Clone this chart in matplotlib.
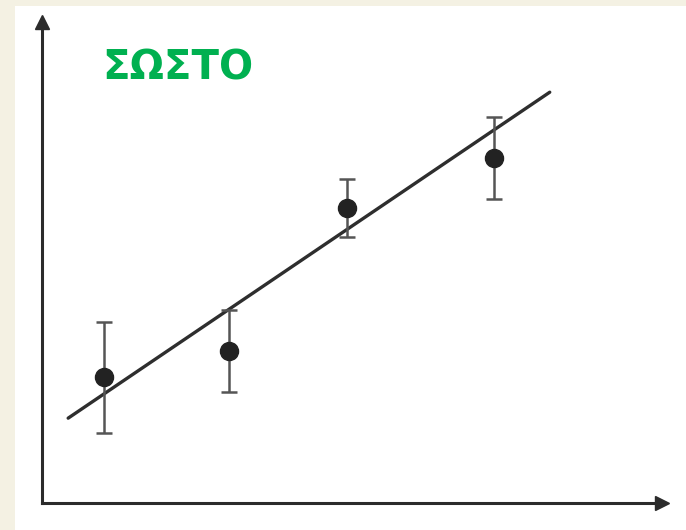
import matplotlib
matplotlib.use("Agg")
import matplotlib.pyplot as plt
from matplotlib.patches import Rectangle

# Measurements with their uncertainties
x_vals = [1.0, 3.0, 4.9, 7.25]
y_vals = [2.6, 3.15, 6.1, 7.15]
y_err = [1.15, 0.85, 0.6, 0.85]

# Fitted straight line y = slope * x + intercept
slope = 0.873
intercept = 1.39
fit_x = [0.42, 8.15]

label_text = "ΣΩΣΤΟ"

fig = plt.figure(figsize=(6.86, 5.30), dpi=100)
fig.patch.set_facecolor("white")

# thin cream margins along the top and left edges
fig.patches.append(Rectangle((0, 1 - 6 / 530), 1, 6 / 530, transform=fig.transFigure,
                             facecolor="#f4f1e3", edgecolor="none", zorder=0))
fig.patches.append(Rectangle((0, 0), 15 / 686, 1, transform=fig.transFigure,
                             facecolor="#f4f1e3", edgecolor="none", zorder=0))

ax = fig.add_axes([42 / 686, 27 / 530, 620 / 686, 481 / 530])
ax.set_facecolor("none")
ax.set_xlim(0, 10 * 620 / 623)
ax.set_ylim(0, 10 * 481 / 483)

for side in ("top", "right"):
    ax.spines[side].set_visible(False)
for side in ("left", "bottom"):
    ax.spines[side].set_linewidth(2.2)
    ax.spines[side].set_color("#2b2b2b")
ax.set_xticks([])
ax.set_yticks([])

# arrow heads on the axes
ax.plot(1, 0, marker=">", markersize=10, color="#2b2b2b", transform=ax.transAxes, clip_on=False)
ax.plot(0, 1, marker="^", markersize=10, color="#2b2b2b", transform=ax.transAxes, clip_on=False)

ax.errorbar(x_vals, y_vals, yerr=y_err, fmt="o", color="#222222", ecolor="#555555",
            markersize=13, elinewidth=1.8, capsize=6, capthick=1.8, zorder=3)

fit_y = [slope * x + intercept for x in fit_x]
ax.plot(fit_x, fit_y, color="#2e2e2e", linewidth=2.4, solid_capstyle="round", zorder=2)

fig.text(178 / 686, 1 - 68 / 530, label_text, color="#00b050", fontsize=29,
         fontweight="bold", family=["DejaVu Sans"], ha="center", va="center")

fig.savefig("out.png", dpi=100)
